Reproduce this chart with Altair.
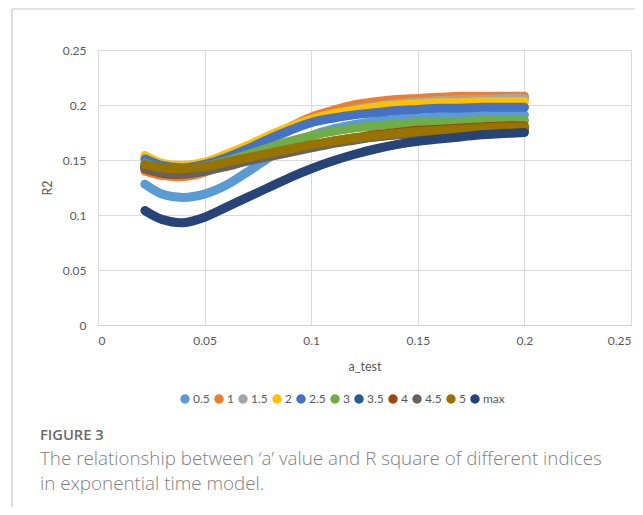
import altair as alt
import pandas as pd

a_test = [0.022, 0.03, 0.04, 0.05, 0.06, 0.07, 0.08, 0.09, 0.10, 0.11,
          0.12, 0.13, 0.14, 0.15, 0.16, 0.17, 0.18, 0.19, 0.20]

series_names = ["0.5", "1", "1.5", "2", "2.5", "3", "3.5", "4", "4.5", "5", "max"]
series_colors = ["#5B9BD5", "#ED7D31", "#A5A5A5", "#FFC000", "#4472C4", "#70AD47",
                 "#255E91", "#9E480E", "#636363", "#997300", "#264478"]

r2_0_5 = [0.128, 0.119, 0.116, 0.119, 0.127, 0.139, 0.152, 0.163, 0.172, 0.178,
          0.182, 0.185, 0.187, 0.188, 0.189, 0.190, 0.190, 0.191, 0.191]
r2_1 = [0.140, 0.136, 0.135, 0.139, 0.147, 0.158, 0.169, 0.180, 0.189, 0.195,
        0.200, 0.203, 0.205, 0.206, 0.207, 0.208, 0.208, 0.208, 0.208]
r2_1_5 = [0.143, 0.138, 0.137, 0.140, 0.147, 0.157, 0.167, 0.177, 0.185, 0.191,
          0.196, 0.199, 0.201, 0.203, 0.204, 0.205, 0.205, 0.206, 0.206]
r2_2 = [0.154, 0.147, 0.145, 0.148, 0.155, 0.163, 0.172, 0.180, 0.187, 0.192,
        0.195, 0.198, 0.200, 0.201, 0.202, 0.202, 0.203, 0.203, 0.203]
r2_2_5 = [0.151, 0.145, 0.143, 0.146, 0.152, 0.160, 0.169, 0.177, 0.184, 0.188,
          0.191, 0.193, 0.195, 0.196, 0.197, 0.197, 0.198, 0.198, 0.198]
r2_3 = [0.147, 0.142, 0.141, 0.144, 0.149, 0.155, 0.161, 0.167, 0.172, 0.176,
        0.179, 0.181, 0.183, 0.184, 0.185, 0.185, 0.186, 0.186, 0.186]
r2_3_5 = [0.144, 0.140, 0.139, 0.141, 0.145, 0.150, 0.154, 0.158, 0.162, 0.166,
          0.169, 0.171, 0.173, 0.175, 0.176, 0.177, 0.178, 0.178, 0.178]
r2_4 = [0.142, 0.138, 0.137, 0.140, 0.145, 0.150, 0.155, 0.159, 0.163, 0.167,
        0.170, 0.173, 0.175, 0.177, 0.178, 0.179, 0.180, 0.181, 0.181]
r2_4_5 = [0.143, 0.139, 0.138, 0.140, 0.144, 0.149, 0.153, 0.157, 0.161, 0.165,
          0.168, 0.171, 0.173, 0.174, 0.176, 0.177, 0.178, 0.178, 0.179]
r2_5 = [0.146, 0.143, 0.142, 0.144, 0.148, 0.152, 0.156, 0.160, 0.164, 0.167,
        0.170, 0.172, 0.174, 0.176, 0.177, 0.178, 0.179, 0.180, 0.180]
r2_max = [0.104, 0.096, 0.093, 0.098, 0.107, 0.116, 0.125, 0.134, 0.142, 0.149,
          0.155, 0.160, 0.164, 0.167, 0.169, 0.171, 0.173, 0.174, 0.175]

all_series = [r2_0_5, r2_1, r2_1_5, r2_2, r2_2_5, r2_3, r2_3_5, r2_4, r2_4_5, r2_5, r2_max]

caption_label = "FIGURE 3"
caption_lines = ["The relationship between \u2018a\u2019 value and R square of different indices",
                 "in exponential time model."]

rows = []
for k, (name, vals) in enumerate(zip(series_names, all_series)):
    for x, y in zip(a_test, vals):
        rows.append({"series": name, "order": k, "a_test": x, "R2": y})
df = pd.DataFrame(rows)

FONT = "Lato"
CAPFONT = "Open Sans"
TXT = "#595959"

color_scale = alt.Scale(domain=series_names, range=series_colors)
x_enc = alt.X("a_test:Q", title="a_test",
              scale=alt.Scale(domain=[0, 0.25], nice=False),
              axis=alt.Axis(values=[0, 0.05, 0.1, 0.15, 0.2, 0.25], format="~g",
                            ticks=False, labelPadding=10, titlePadding=14,
                            domainColor="#d0d0d0"))
y_enc = alt.Y("R2:Q", title="R2",
              scale=alt.Scale(domain=[0, 0.25], nice=False),
              axis=alt.Axis(values=[0, 0.05, 0.1, 0.15, 0.2, 0.25], format="~g",
                            ticks=False, domain=False, labelPadding=12, titlePadding=8))

base = alt.Chart(df)

circles = base.mark_circle(size=64, opacity=1).encode(
    x=x_enc, y=y_enc,
    color=alt.Color("series:N", scale=color_scale, sort=series_names,
                    legend=alt.Legend(title=None, orient="none", direction="horizontal",
                                      legendX=81, legendY=343, symbolType="circle",
                                      symbolSize=64, labelFontSize=12, labelFont=FONT,
                                      labelColor=TXT, labelOffset=2, columnPadding=2,
                                      padding=0)),
)

lines = base.mark_line(strokeWidth=9, strokeCap="round", strokeJoin="round",
                       interpolate="catmull-rom").encode(
    x=x_enc, y=y_enc,
    color=alt.Color("series:N", scale=color_scale, sort=series_names, legend=None),
    detail="order:O",
)

one = alt.Data(values=[{}])
frame_left = alt.Chart(one).mark_rule(color="#c8c8c8", strokeWidth=1.2).encode(
    x=alt.value(-86), y=alt.value(-41), y2=alt.value(470))
frame_top = alt.Chart(one).mark_rule(color="#c8c8c8", strokeWidth=1.2).encode(
    x=alt.value(-86), x2=alt.value(560), y=alt.value(-41))

fig_label = alt.Chart(one).mark_text(align="left", baseline="middle", font=CAPFONT,
                                     fontSize=14.7, fontWeight=600, color="#6a6a6a").encode(
    x=alt.value(-58), y=alt.value(386), text=alt.value(caption_label))
cap1 = alt.Chart(one).mark_text(align="left", baseline="middle", font=CAPFONT,
                                fontSize=18.8, fontWeight=300, color="#7f7f7f").encode(
    x=alt.value(-58), y=alt.value(409), text=alt.value(caption_lines[0]))
cap2 = alt.Chart(one).mark_text(align="left", baseline="middle", font=CAPFONT,
                                fontSize=18.8, fontWeight=300, color="#7f7f7f").encode(
    x=alt.value(-58), y=alt.value(434), text=alt.value(caption_lines[1]))

chart = alt.layer(circles, lines, frame_left, frame_top, fig_label, cap1, cap2).properties(
    width=533, height=275,
    padding={"left": 90, "top": 42, "right": 4, "bottom": 182},
    autosize=alt.AutoSizeParams(type="none"),
    background="white",
).configure_view(stroke=None).configure_axis(
    gridColor="#d9d9d9", gridWidth=1, labelFont=FONT, labelFontSize=12,
    labelColor=TXT, titleFont=FONT, titleFontSize=12.5, titleColor=TXT,
    titleFontWeight="normal",
)

chart.save("out.html", embed_options={"renderer": "svg", "actions": False})
